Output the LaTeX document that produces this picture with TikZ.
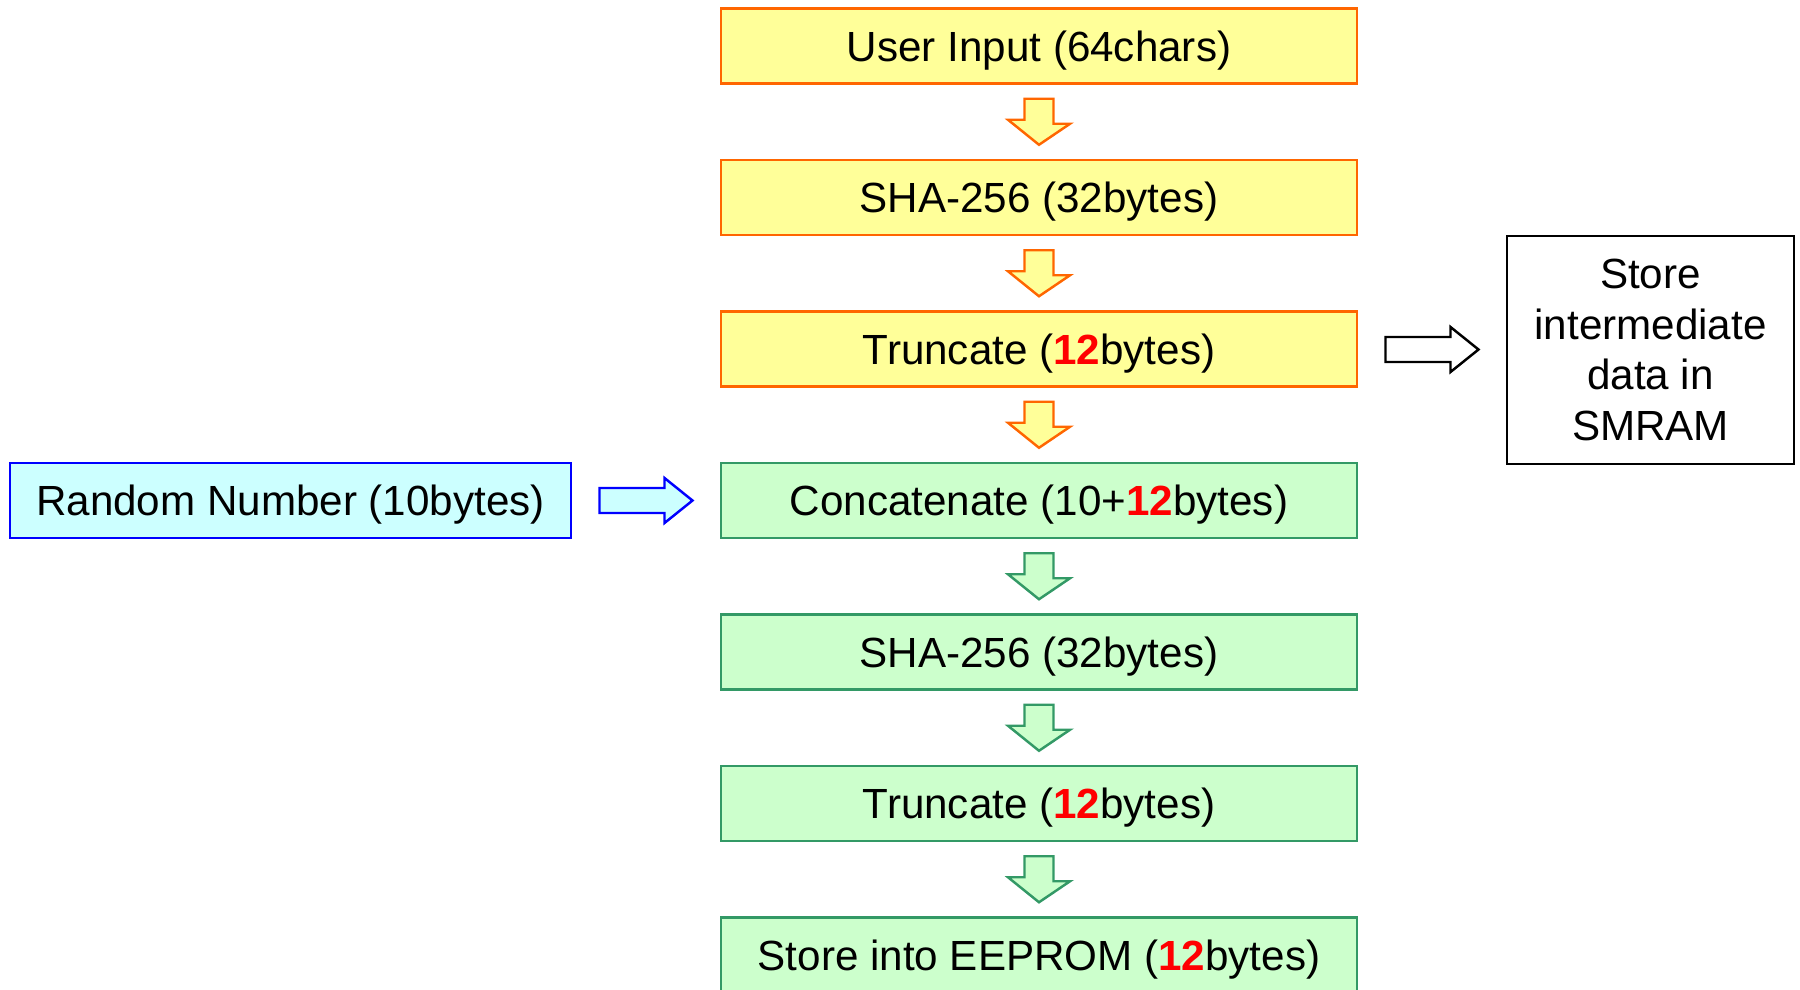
\documentclass[tikz,border=0pt]{standalone}
\usepackage{fontspec}
\setmainfont{Liberation Sans}
\usetikzlibrary{calc}

\definecolor{boxyellow}{HTML}{FFFF99}
\definecolor{edgeorange}{HTML}{FF6600}
\definecolor{boxgreen}{HTML}{CCFFCC}
\definecolor{edgegreen}{HTML}{339966}
\definecolor{boxcyan}{HTML}{CCFFFF}

\newcommand{\hl}[1]{\textcolor{red}{\textbf{#1}}}
% hollow block arrow pointing down, halfway between two nodes
\newcommand{\blockdown}[3]{%
  \coordinate (mid) at ($(#2.south)!0.5!(#3.north)$);
  \draw[#1] ($(mid)+(-0.145,0.23)$) -- ++(0.29,0) -- ++(0,-0.25) -- ++(0.165,0)
    -- ($(mid)+(0,-0.23)$) -- ($(mid)+(-0.31,0.02)$) -- ++(0.165,0) -- cycle;}
% hollow block arrow pointing right, halfway between two nodes
\newcommand{\blockright}[3]{%
  \coordinate (mid) at ($(#2.east)!0.5!(#3.west)$);
  \draw[#1] ($(mid)+(-0.465,0.125)$) -- ++(0.65,0) -- ++(0,0.1)
    -- ($(mid)+(0.465,0)$) -- ($(mid)+(0.185,-0.225)$) -- ++(0,0.1)
    -- ($(mid)+(-0.465,-0.125)$) -- cycle;}

\begin{document}
\begin{tikzpicture}[line join=miter,
  every node/.style={inner sep=0pt,font=\fontsize{12}{14.4}\selectfont},
  stepbox/.style={draw,line width=0.8pt,minimum width=6.36cm,minimum height=0.75cm,text depth=0pt},
  hashbox/.style={stepbox,fill=boxyellow,draw=edgeorange},
  mixbox/.style={stepbox,fill=boxgreen,draw=edgegreen},
  yarrow/.style={fill=boxyellow,draw=edgeorange,line width=0.7pt},
  garrow/.style={fill=boxgreen,draw=edgegreen,line width=0.7pt},
  barrow/.style={fill=boxcyan,draw=blue,line width=0.7pt},
  karrow/.style={fill=white,draw=black,line width=0.7pt}]
  \useasboundingbox (0,0) rectangle (18,-9.89);

  \node[hashbox] (input)  at (10.39,-0.46) {User Input (64chars)};
  \node[hashbox] (hash1)  at (10.39,-1.975) {SHA-256 (32bytes)};
  \node[hashbox] (trunc1) at (10.39,-3.49) {Truncate (\hl{12}bytes)};
  \node[mixbox]  (concat) at (10.39,-5.005) {Concatenate (10+\hl{12}bytes)};
  \node[mixbox]  (hash2)  at (10.39,-6.52) {SHA-256 (32bytes)};
  \node[mixbox]  (trunc2) at (10.39,-8.035) {Truncate (\hl{12}bytes)};
  \node[mixbox]  (eeprom) at (10.39,-9.55) {Store into EEPROM (\hl{12}bytes)};

  \node[stepbox,draw=blue,fill=boxcyan,minimum width=5.61cm]
    (rand) at (2.905,-5.005) {Random Number (10bytes)};
  \node[draw,line width=0.8pt,fill=white,minimum width=2.87cm,minimum height=2.28cm,align=center]
    (smram) at (16.505,-3.50) {Store\\intermediate\\data in\\SMRAM};

  \blockdown{yarrow}{input}{hash1}
  \blockdown{yarrow}{hash1}{trunc1}
  \blockdown{yarrow}{trunc1}{concat}
  \blockdown{garrow}{concat}{hash2}
  \blockdown{garrow}{hash2}{trunc2}
  \blockdown{garrow}{trunc2}{eeprom}
  \blockright{barrow}{rand}{concat}
  \blockright{karrow}{trunc1}{smram}
\end{tikzpicture}
\end{document}
